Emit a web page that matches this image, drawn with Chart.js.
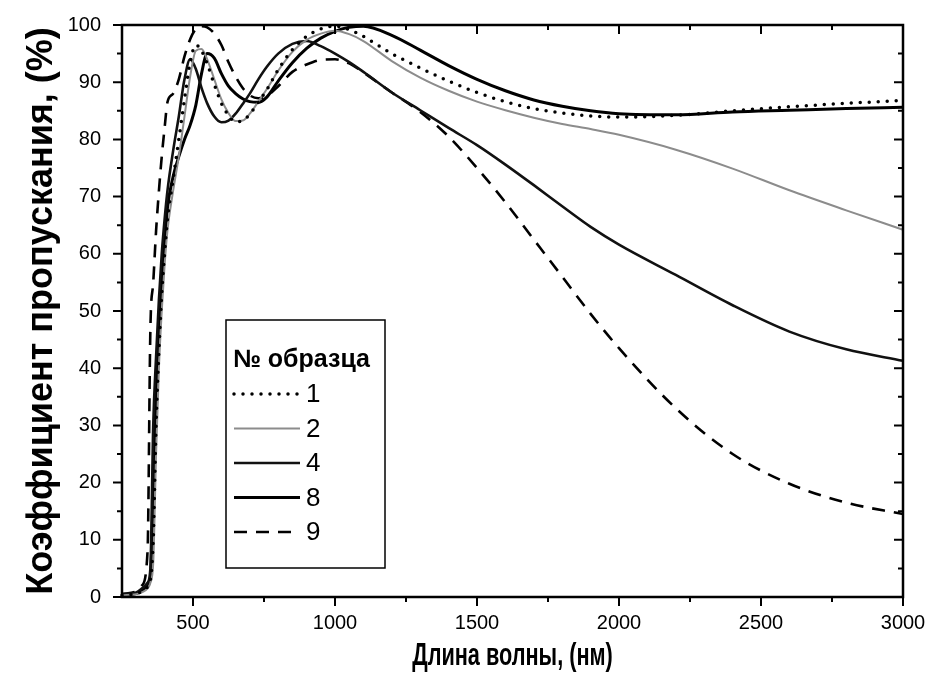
<!DOCTYPE html>
<html>
<head>
<meta charset="utf-8">
<script src="https://cdn.jsdelivr.net/npm/chart.js@4.4.1/dist/chart.umd.min.js"></script>
<style>
  html, body { margin: 0; padding: 0; background: #fff; }
  canvas { display: block; }
</style>
</head>
<body>
<canvas id="chart" width="933" height="694"></canvas>
<script>
// wavelength, nm
const wavelength = [250, 300, 320, 340, 350, 360, 370, 380, 390, 400,
  410, 430, 450, 470, 490, 510, 530, 550, 575, 600,
  625, 650, 675, 700, 730, 760, 800, 850, 900, 950,
  1000, 1050, 1100, 1200, 1300, 1400, 1500, 1600, 1700, 1800,
  1900, 2000, 2200, 2400, 2600, 2800, 3000];

// transmittance, %
const sample1 = [0.3, 0.6, 1, 1.8, 3, 10, 30, 43, 53, 60,
  66, 73, 80, 87, 93.5, 96.5, 95.5, 93.2, 89.6, 86.3,
  84.2, 83.1, 83.3, 84.4, 86.5, 88.7, 92.2, 95.7, 98, 99.3,
  99.8, 99.2, 98, 95, 92.5, 90.2, 88.2, 86.6, 85.4, 84.6,
  84.1, 83.9, 84.2, 85, 85.7, 86.3, 86.8];
const sample2 = [0.3, 0.5, 0.8, 1.5, 2.5, 6, 25, 40, 50, 58,
  64, 71, 77, 84, 91, 95.5, 95.8, 94, 90.5, 87,
  84.6, 83.2, 83.3, 84.5, 86.6, 88.8, 92, 95.3, 97.4, 98.5,
  99, 98.4, 97.2, 93.7, 90.8, 88.5, 86.6, 85.1, 83.8, 82.7,
  81.8, 80.8, 78.2, 74.9, 71.1, 67.6, 64.2];
const sample4 = [0.5, 0.8, 1.5, 2.5, 5, 30, 42, 52, 60, 66,
  71, 78, 84, 90.5, 94, 92.3, 89, 86.3, 84, 83,
  83.3, 84.5, 86.2, 88, 90.5, 92.7, 95, 96.7, 97.2, 96.3,
  95, 93.5, 91.8, 88.2, 85.1, 82, 79, 75.6, 72, 68.3,
  64.7, 61.6, 56.3, 51, 46.4, 43.3, 41.3];
const sample8 = [0.3, 0.6, 1, 2, 3.5, 18, 36, 47, 55, 62,
  68, 73.5, 77, 80, 82.5, 86, 91.5, 95, 94.2, 91.5,
  89.3, 88, 87.1, 86.6, 86.5, 87.4, 90.2, 93.4, 95.9, 97.7,
  98.9, 99.6, 99.8, 98.2, 95.6, 92.9, 90.5, 88.5, 86.9, 85.8,
  85, 84.5, 84.3, 84.8, 85.1, 85.4, 85.6];
const sample9 = [0.5, 1, 2, 8, 47, 55, 64, 71, 77, 82,
  86.5, 88, 90.5, 94.5, 97.5, 99.3, 99.8, 99.6, 98.5, 96.5,
  93.5, 91, 89, 87.7, 87.2, 87.6, 89.3, 91.8, 93.1, 93.9,
  94, 93.3, 91.7, 88.2, 84.8, 80.5, 75, 69, 62.5, 56,
  49.5, 43.5, 33, 25, 19.8, 16.5, 14.5];

const xTicks = [500, 1000, 1500, 2000, 2500, 3000];
const xMinor = [750, 1250, 1750, 2250, 2750];
const yTicks = [0, 10, 20, 30, 40, 50, 60, 70, 80, 90, 100];
const yMinor = [5, 15, 25, 35, 45, 55, 65, 75, 85, 95];

const toPoints = arr => wavelength.map((x, i) => ({ x: x, y: arr[i] }));
const FONT = "'Liberation Sans', Arial, sans-serif";

// frame with ticks on all four sides + condensed x title
const framePlugin = {
  id: "frame",
  afterDatasetsDraw(chart) {
    const { ctx, chartArea: a, scales: { x, y } } = chart;
    ctx.save();
    ctx.strokeStyle = "#000";
    ctx.lineWidth = 2.5;
    ctx.strokeRect(a.left, a.top, a.right - a.left, a.bottom - a.top);
    ctx.lineWidth = 2;
    ctx.beginPath();
    const tickX = (v, len) => {
      const px = x.getPixelForValue(v);
      ctx.moveTo(px, a.bottom); ctx.lineTo(px, a.bottom + len);
      ctx.moveTo(px, a.top); ctx.lineTo(px, a.top + len);
    };
    const tickY = (v, len) => {
      const py = y.getPixelForValue(v);
      ctx.moveTo(a.left, py); ctx.lineTo(a.left - len, py);
      ctx.moveTo(a.right, py); ctx.lineTo(a.right - len, py);
    };
    xTicks.forEach(v => tickX(v, 9));
    xMinor.forEach(v => tickX(v, 5));
    yTicks.forEach(v => tickY(v, 9));
    yMinor.forEach(v => tickY(v, 5));
    ctx.stroke();

    // x axis title, horizontally condensed like the original
    ctx.fillStyle = "#000";
    ctx.font = "bold 31px " + FONT;
    ctx.textAlign = "center";
    ctx.textBaseline = "middle";
    ctx.translate((a.left + a.right) / 2, 656);
    ctx.scale(0.7, 1);
    ctx.fillText("Длина волны, (нм)", 0, 0);
    ctx.restore();
  }
};

// legend box inside the plot
const legendPlugin = {
  id: "boxLegend",
  afterDraw(chart) {
    const { ctx } = chart;
    const bx = 226, by = 320, bw = 159, bh = 248;
    ctx.save();
    ctx.fillStyle = "#fff";
    ctx.fillRect(bx, by, bw, bh);
    ctx.strokeStyle = "#000";
    ctx.lineWidth = 1.5;
    ctx.strokeRect(bx, by, bw, bh);
    ctx.fillStyle = "#000";
    ctx.textBaseline = "middle";
    ctx.font = "bold 25px " + FONT;
    ctx.fillText("№ образца", bx + 7, by + 40);
    ctx.font = "26px " + FONT;
    chart.data.datasets.forEach((ds, i) => {
      const yy = by + 74 + i * 34.5;
      ctx.beginPath();
      ctx.setLineDash(ds.borderDash || []);
      ctx.lineCap = ds.borderCapStyle || "butt";
      ctx.lineWidth = ds.borderWidth;
      ctx.strokeStyle = ds.borderColor;
      ctx.moveTo(bx + 8, yy);
      ctx.lineTo(bx + 74, yy);
      ctx.stroke();
      ctx.setLineDash([]);
      ctx.fillText(ds.label, bx + 80, yy + 1);
    });
    ctx.restore();
  }
};

new Chart(document.getElementById("chart"), {
  type: "line",
  data: {
    datasets: [
      { label: "1", data: toPoints(sample1), borderColor: "#000", borderWidth: 3.5,
        borderDash: [0, 9], borderCapStyle: "round" },
      { label: "2", data: toPoints(sample2), borderColor: "#8c8c8c", borderWidth: 2 },
      { label: "4", data: toPoints(sample4), borderColor: "#111", borderWidth: 2.6 },
      { label: "8", data: toPoints(sample8), borderColor: "#000", borderWidth: 3 },
      { label: "9", data: toPoints(sample9), borderColor: "#000", borderWidth: 2.6,
        borderDash: [13, 9] }
    ]
  },
  options: {
    responsive: false,
    animation: false,
    layout: { padding: { top: 19, right: 30, left: 0, bottom: 0 } },
    elements: {
      point: { radius: 0 },
      line: { cubicInterpolationMode: "monotone", fill: false }
    },
    datasets: { line: { clip: 6 } },
    plugins: { legend: { display: false }, tooltip: { enabled: false } },
    scales: {
      x: {
        type: "linear",
        min: 250,
        max: 3000,
        afterBuildTicks: s => { s.ticks = xTicks.map(v => ({ value: v })); },
        afterFit: s => { s.height = 97; },
        grid: { display: false },
        border: { display: false },
        ticks: { color: "#000", padding: 6, maxRotation: 0,
          font: { family: FONT, size: 20 }, callback: v => String(v) }
      },
      y: {
        min: 0,
        max: 100,
        afterBuildTicks: s => { s.ticks = yTicks.map(v => ({ value: v })); },
        afterFit: s => { s.width = 122; },
        grid: { display: false },
        border: { display: false },
        ticks: { color: "#000", padding: 13, font: { family: FONT, size: 20 },
          callback: v => String(v) },
        title: { display: true, text: "Коэффициент пропускания, (%)", color: "#000",
          padding: { top: 20, bottom: 0 },
          font: { family: FONT, size: 36, weight: "bold" } }
      }
    }
  },
  plugins: [framePlugin, legendPlugin]
});
</script>
</body>
</html>
